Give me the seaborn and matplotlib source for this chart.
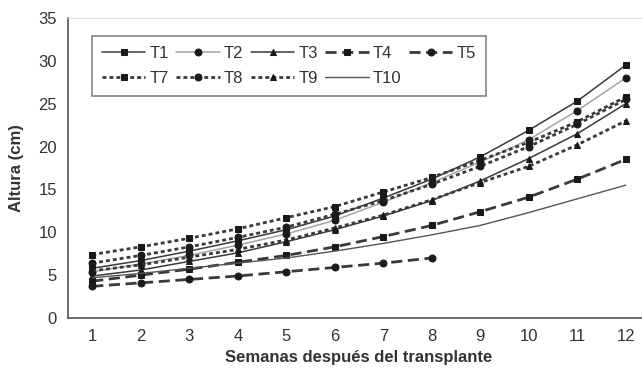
import matplotlib
matplotlib.use('Agg')
import matplotlib.pyplot as plt
import seaborn as sns

semanas = [1, 2, 3, 4, 5, 6, 7, 8, 9, 10, 11, 12]

t1 = [5.8, 6.7, 7.8, 9.0, 10.3, 11.9, 14.0, 16.2, 18.8, 21.9, 25.3, 29.5]
t2 = [5.4, 6.3, 7.3, 8.5, 9.8, 11.4, 13.5, 15.8, 18.2, 20.8, 24.2, 28.0]
t3 = [4.9, 5.6, 6.6, 7.6, 8.9, 10.3, 11.9, 13.7, 16.0, 18.6, 21.5, 25.0]
t4 = [4.3, 5.0, 5.7, 6.5, 7.3, 8.3, 9.5, 10.8, 12.4, 14.1, 16.2, 18.5]
t5 = [3.7, 4.1, 4.5, 4.9, 5.4, 5.9, 6.4, 7.0]
t7 = [7.4, 8.3, 9.3, 10.4, 11.7, 13.0, 14.7, 16.4, 18.4, 20.5, 22.9, 25.8]
t8 = [6.4, 7.3, 8.3, 9.4, 10.6, 12.1, 13.7, 15.6, 17.7, 20.0, 22.6, 25.5]
t9 = [5.5, 6.2, 7.1, 8.0, 9.1, 10.5, 12.0, 13.8, 15.8, 17.7, 20.2, 23.0]
t10 = [4.7, 5.2, 5.8, 6.4, 7.0, 7.8, 8.7, 9.7, 10.8, 12.3, 13.9, 15.5]

sns.set_style('white')
plt.rcParams['font.family'] = ['Liberation Sans Narrow', 'Liberation Sans', 'DejaVu Sans']

fig = plt.figure(figsize=(6.42, 3.71), dpi=100)
ax = fig.add_axes([68/642, 53/371, 582/642, 300/371])

gris = '#3a3a3a'
largo = (0, (4, 2))
punto = (0, (1.4, 1.1))

series = [
    ('T1', t1, '-', 's', 1.1, gris),
    ('T2', t2, '-', 'o', 1.1, '#a5a5a5'),
    ('T3', t3, '-', '^', 1.1, gris),
    ('T4', t4, largo, 's', 2.0, gris),
    ('T5', t5, largo, 'o', 2.0, gris),
    ('T7', t7, punto, 's', 2.0, gris),
    ('T8', t8, punto, 'o', 2.0, gris),
    ('T9', t9, punto, '^', 2.0, gris),
    ('T10', t10, '-', None, 1.0, '#555555'),
]

for nombre, vals, ls, mk, lw, col in series:
    sns.lineplot(x=semanas[:len(vals)], y=vals, ax=ax, label=nombre,
                 linestyle=ls, marker=mk, markersize=5, linewidth=lw,
                 color=col, markerfacecolor='#1a1a1a', markeredgecolor='#1a1a1a')

ax.set_xlim(0.5, 12.5)
ax.set_ylim(0, 35)
ax.set_yticks(range(0, 36, 5))
ax.set_xticks(semanas)
ax.set_xticks([s + 0.5 for s in [0] + semanas], minor=True)
ax.tick_params(axis='x', which='major', length=0, labelsize=12, colors='#333333', pad=8)
ax.tick_params(axis='x', which='minor', length=4, width=1, color='#555555', direction='out')
ax.tick_params(axis='y', length=4, width=1, color='#555555', direction='out',
               labelsize=12, labelcolor='#333333', pad=4)

ax.spines['right'].set_visible(False)
ax.spines['top'].set_color('#dddddd')
ax.spines['top'].set_linewidth(0.8)
for s in ['left', 'bottom']:
    ax.spines[s].set_color('#555555')
    ax.spines[s].set_linewidth(1.2)

ax.set_xlabel('Semanas después del transplante', fontsize=12, fontweight='bold',
              color='#333333', labelpad=4)
ax.set_ylabel('Altura (cm)', fontsize=12, fontweight='bold', color='#333333', labelpad=10)

handles, labels = ax.get_legend_handles_labels()
d = dict(zip(labels, handles))
orden = ['T1', 'T7', 'T2', 'T8', 'T3', 'T9', 'T4', 'T10', 'T5']
leg = ax.legend([d[o] for o in orden], orden, ncol=5, loc='upper left',
                bbox_to_anchor=(92/642, 1 - 36/371), bbox_transform=fig.transFigure,
                borderaxespad=0, fontsize=12, handlelength=2.6, handletextpad=0.25,
                columnspacing=0.45, fancybox=False, frameon=True, borderpad=0.6,
                labelspacing=0.6)
leg.get_frame().set_edgecolor('#666666')
leg.get_frame().set_linewidth(1.2)
for t in leg.get_texts():
    t.set_color('#333333')

fig.savefig('out.png', dpi=100)
